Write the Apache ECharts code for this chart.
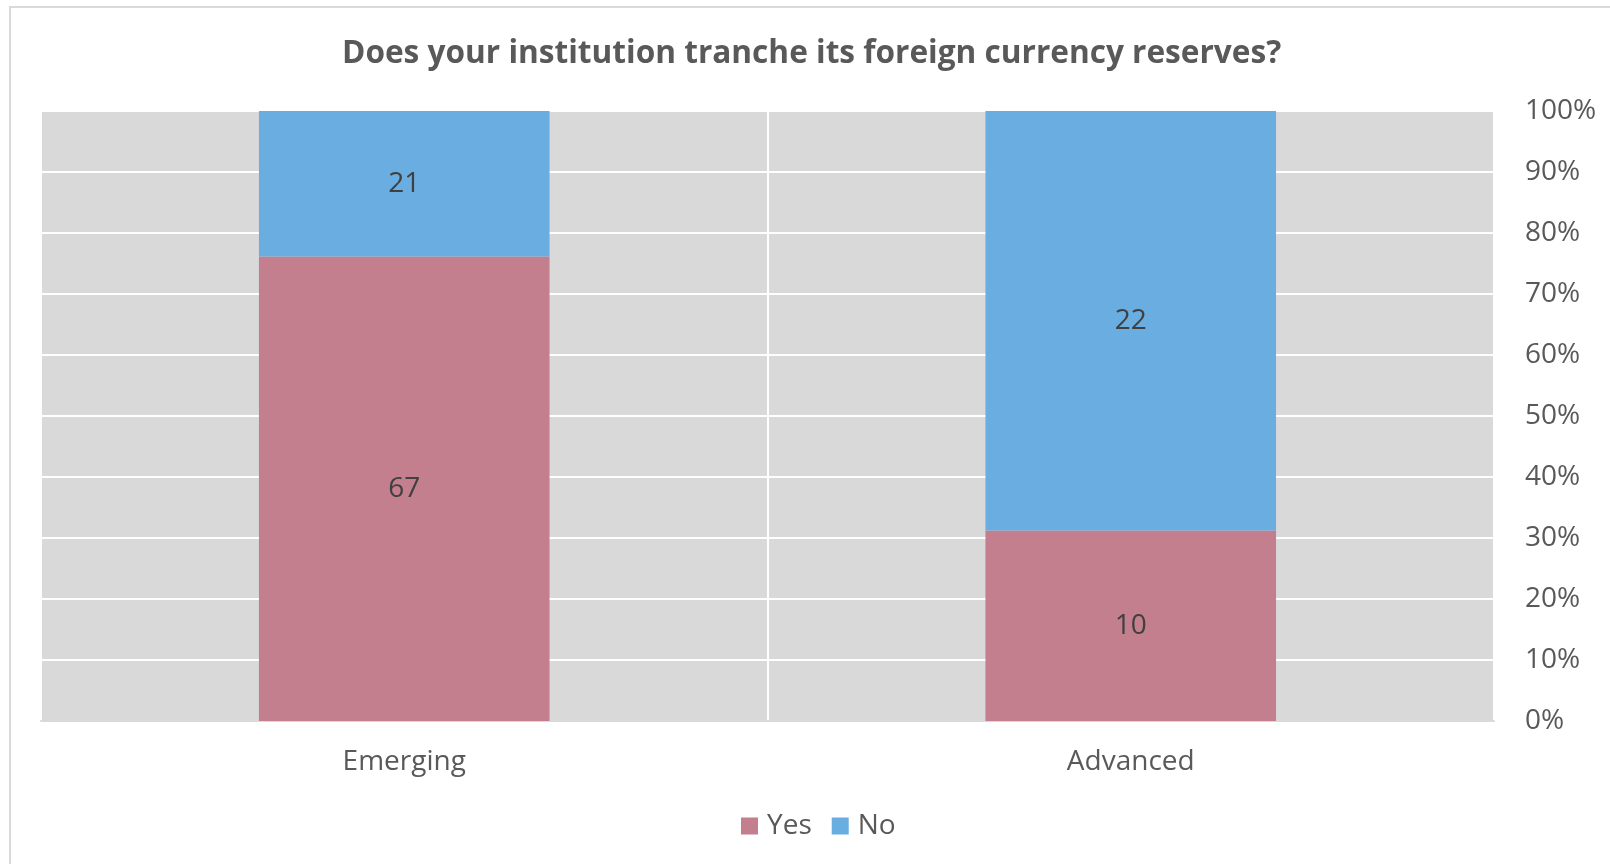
<!DOCTYPE html>
<html>
<head>
<meta charset="utf-8">
<script src="https://cdn.jsdelivr.net/npm/echarts@6/dist/echarts.min.js"></script>
<style>
  html, body { margin: 0; padding: 0; background: #fff; }
  #chart { width: 1610px; height: 864px; }
</style>
</head>
<body>
<div id="chart"></div>
<script>
  // survey counts per group
  var categories = ['Emerging', 'Advanced'];
  var yesCounts = [67, 10];
  var noCounts = [21, 22];
  var percentTicks = [0, 10, 20, 30, 40, 50, 60, 70, 80, 90, 100];

  var colors = ['#c47f8e', '#6aade0'];
  var font = 'Open Sans';

  // 100% stacked: share of each answer within its group
  var totals = categories.map(function (c, i) { return yesCounts[i] + noCounts[i]; });
  var yesShare = yesCounts.map(function (v, i) { return v / totals[i] * 100; });
  var noShare = noCounts.map(function (v, i) { return v / totals[i] * 100; });

  var chart = echarts.init(document.getElementById('chart'));
  chart.setOption({
    color: colors,
    textStyle: { fontFamily: font },
    title: {
      text: 'Does your institution tranche its foreign currency reserves?',
      left: 337,
      top: 33,
      textStyle: { fontFamily: font, fontSize: 31.6, fontWeight: 'bold', color: '#595959' }
    },
    legend: {
      bottom: 19,
      left: 736,
      itemWidth: 17,
      itemHeight: 17,
      itemGap: 20,
      icon: 'rect',
      textStyle: { fontFamily: font, fontSize: 28, color: '#595959', padding: [0, 0, 0, 4] },
      data: ['Yes', 'No']
    },
    graphic: [{
      type: 'rect',
      shape: { x: 10, y: 7, width: 1700, height: 1000 },
      style: { fill: 'none', stroke: '#d9d9d9', lineWidth: 2 },
      silent: true
    }],
    grid: {
      left: 41,
      right: 116,
      top: 111,
      bottom: 143,
      show: true,
      backgroundColor: '#d9d9d9',
      borderWidth: 0
    },
    xAxis: {
      type: 'category',
      data: categories,
      axisTick: { show: false },
      axisLine: { show: true, lineStyle: { color: '#d9d9d9', width: 2 } },
      axisLabel: { margin: 27, fontSize: 28, color: '#595959', fontFamily: font },
      splitLine: { show: true, lineStyle: { color: '#ffffff', width: 2 } }
    },
    yAxis: {
      type: 'value',
      position: 'right',
      min: percentTicks[0],
      max: percentTicks[percentTicks.length - 1],
      interval: 10,
      axisLine: { show: false },
      axisTick: { show: false },
      axisLabel: {
        formatter: '{value}%',
        margin: 31,
        align: 'left',
        fontSize: 28,
        color: '#595959',
        fontFamily: font
      },
      splitLine: { lineStyle: { color: '#ffffff', width: 2 } }
    },
    series: [
      {
        name: 'Yes',
        type: 'bar',
        stack: 'total',
        barWidth: '40%',
        data: yesShare,
        label: {
          show: true,
          position: 'inside',
          fontSize: 28,
          color: '#404040',
          fontFamily: font,
          formatter: function (p) { return yesCounts[p.dataIndex]; }
        }
      },
      {
        name: 'No',
        type: 'bar',
        stack: 'total',
        barWidth: '40%',
        data: noShare,
        label: {
          show: true,
          position: 'inside',
          fontSize: 28,
          color: '#404040',
          fontFamily: font,
          formatter: function (p) { return noCounts[p.dataIndex]; }
        }
      }
    ]
  });
</script>
</body>
</html>
